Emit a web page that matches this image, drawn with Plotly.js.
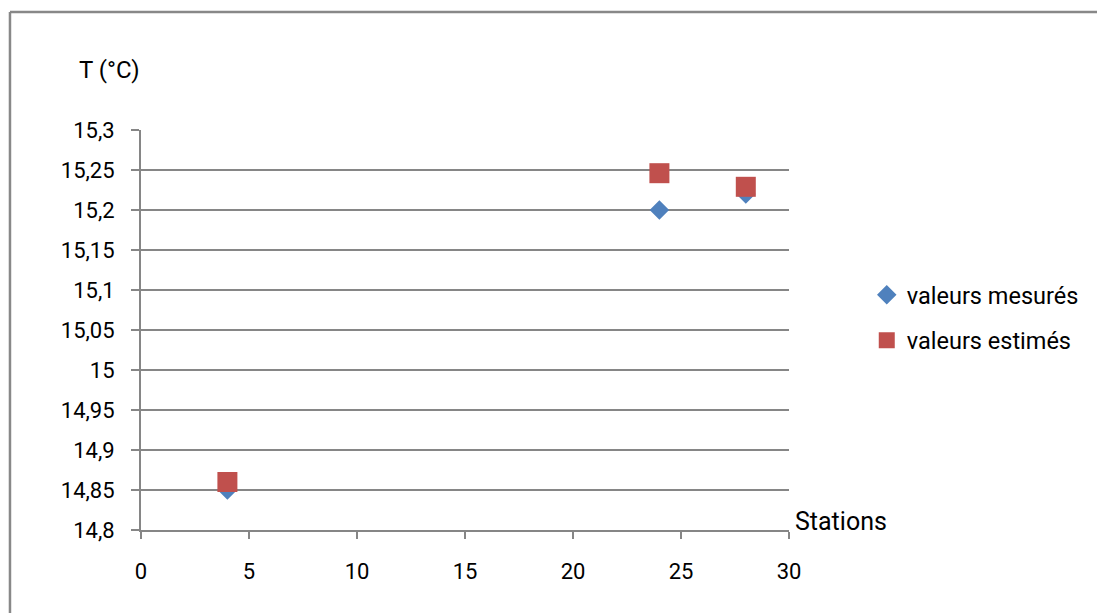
<!DOCTYPE html>
<html>
<head>
<meta charset="utf-8">
<script src="https://cdn.plot.ly/plotly-3.0.1.min.js"></script>
<style>html,body{margin:0;padding:0;background:#fff;}#chart{width:1097px;height:613px;}</style>
</head>
<body>
<div id="chart"></div>
<script>
const stations = [4, 24, 28];
const measured = [14.85, 15.2, 15.22];
const estimated = [14.86, 15.246, 15.229];
const seriesNames = ["valeurs mesurés", "valeurs estimés"];
const yTitle = "T (°C)";
const xTitle = "Stations";

const FONT = "Roboto, 'Liberation Sans', sans-serif";
const GRID = "#868686";

const traces = [
  {x: stations, y: measured, name: seriesNames[0], type: "scatter", mode: "markers",
   legendgroup: "a",
   marker: {symbol: "diamond", size: 15, color: "#4F81BD"}},
  {x: stations, y: estimated, name: seriesNames[1], type: "scatter", mode: "markers",
   legendgroup: "b",
   marker: {symbol: "square", size: 20, color: "#C0504D"}}
];

const layout = {
  width: 1097, height: 613,
  margin: {l: 141, r: 308, t: 130, b: 83},
  paper_bgcolor: "#fff", plot_bgcolor: "#fff",
  separators: ", ",
  font: {family: FONT, size: 22, color: "#000"},
  showlegend: true,
  legend: {x: 1.12, y: 0.53, xanchor: "left", yanchor: "middle",
           font: {family: FONT, size: 23.5, color: "#000"},
           tracegroupgap: 12, traceorder: "grouped", bgcolor: "rgba(0,0,0,0)"},
  xaxis: {range: [0, 30], dtick: 5, tick0: 0, showgrid: false, zeroline: false,
          showline: true, linecolor: GRID, linewidth: 2,
          ticks: "outside", ticklen: 7, tickcolor: GRID, tickwidth: 2,
          ticklabelstandoff: 14,
          tickfont: {family: FONT, size: 22}, fixedrange: true},
  yaxis: {range: [14.8, 15.3], dtick: 0.05, tick0: 14.8, showgrid: true, gridcolor: GRID, gridwidth: 2,
          zeroline: false, showline: true, linecolor: GRID, linewidth: 2,
          ticks: "outside", ticklen: 8, tickcolor: GRID, tickwidth: 2,
          ticklabelstandoff: 12,
          tickfont: {family: FONT, size: 22}, fixedrange: true},
  annotations: [
    {text: yTitle, xref: "paper", yref: "paper", x: (109 - 141) / 648, y: (530 - 70) / 400,
     xanchor: "center", yanchor: "middle",
     showarrow: false, font: {family: FONT, size: 24}},
    {text: xTitle, xref: "paper", yref: "paper", x: (793 - 141) / 648, y: (530 - 521) / 400,
     xanchor: "left", yanchor: "middle",
     showarrow: false, font: {family: FONT, size: 25}}
  ],
  shapes: [
    {type: "line", xref: "paper", yref: "paper", x0: -0.2022, x1: 1.6, y0: 1.295, y1: 1.295,
     line: {color: "#888", width: 2.5}},
    {type: "line", xref: "paper", yref: "paper", x0: -0.2022, x1: -0.2022, y0: 1.295, y1: -0.3,
     line: {color: "#888", width: 2.5}}
  ]
};

Plotly.newPlot("chart", traces, layout, {displayModeBar: false, staticPlot: true});
</script>
</body>
</html>
